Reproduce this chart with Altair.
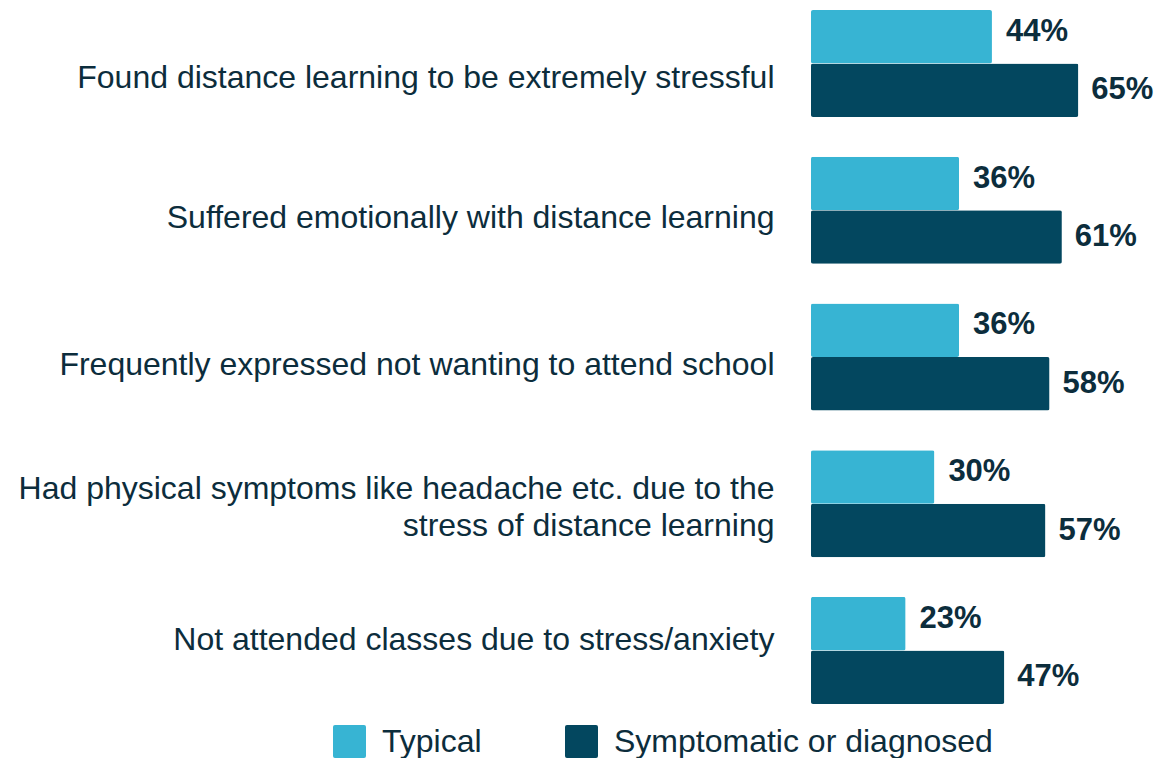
import altair as alt
import pandas as pd

categories = [
    "Found distance learning to be extremely stressful",
    "Suffered emotionally with distance learning",
    "Frequently expressed not wanting to attend school",
    "Had physical symptoms like headache etc. due to the|stress of distance learning",
    "Not attended classes due to stress/anxiety",
]
groups = ["Typical", "Symptomatic or diagnosed"]
typical = [44, 36, 36, 30, 23]
symptomatic = [65, 61, 58, 57, 47]

rows = []
for c, t, s in zip(categories, typical, symptomatic):
    rows.append({"cat": c, "group": groups[0], "value": t, "label": f"{t}%"})
    rows.append({"cat": c, "group": groups[1], "value": s, "label": f"{s}%"})
df = pd.DataFrame(rows)

LIGHT = "#37B4D3"
DARK = "#03475F"
TEXT = "#0C2D3C"
FONT = "Liberation Sans"

label_offset = {
    "condition": [
        {"test": "indexof(datum.value, 'Had') == 0", "value": -15},
        {"test": "indexof(datum.value, 'Not') == 0", "value": -10},
        {"test": "indexof(datum.value, 'Found') == 0", "value": 14},
    ],
    "value": 8,
}

y_enc = alt.Y(
    "cat:N",
    sort=categories,
    scale=alt.Scale(paddingInner=0.27, paddingOuter=0),
    axis=alt.Axis(
        title=None,
        ticks=False,
        domain=False,
        labelExpr="split(datum.label, '|')",
        labelFontSize=32,
        labelLineHeight=37,
        labelColor=TEXT,
        labelFont=FONT,
        labelPadding=37,
        labelLimit=0,
        labelAlign="right",
        labelOffset=label_offset,
    ),
)
yoff = alt.YOffset("group:N", sort=groups, scale=alt.Scale(paddingInner=0, paddingOuter=0))
x_enc = alt.X("value:Q", scale=alt.Scale(domain=[0, 80]), axis=None)

rounded = "M-0.88,-1 H0.88 Q1,-1 1,-0.88 V0.88 Q1,1 0.88,1 H-0.88 Q-1,1 -1,0.88 V-0.88 Q-1,-1 -0.88,-1 Z"

bars = alt.Chart(df).mark_bar(cornerRadius=2).encode(
    y=y_enc,
    yOffset=yoff,
    x=x_enc,
    color=alt.Color(
        "group:N",
        sort=groups,
        scale=alt.Scale(domain=groups, range=[LIGHT, DARK]),
        legend=alt.Legend(
            title=None,
            orient="none",
            legendX=-478,
            legendY=715,
            direction="horizontal",
            symbolType=rounded,
            symbolSize=1089,
            symbolStrokeWidth=0,
            symbolOpacity=1,
            labelFontSize=32,
            labelFont=FONT,
            labelColor=TEXT,
            labelOffset=16,
            columnPadding=83,
            labelLimit=0,
        ),
    ),
)

text_typ = alt.Chart(df).transform_filter(alt.datum.group == groups[0]).mark_text(
    align="left", baseline="middle", dx=14, dy=-5, fontSize=31, fontWeight="bold", font=FONT, color=TEXT
).encode(y=y_enc, yOffset=yoff, x=x_enc, text="label:N")

text_sym = alt.Chart(df).transform_filter(alt.datum.group == groups[1]).mark_text(
    align="left", baseline="middle", dx=13, dy=0, fontSize=31, fontWeight="bold", font=FONT, color=TEXT
).encode(y=y_enc, yOffset=yoff, x=x_enc, text="label:N")

chart = (
    alt.layer(bars, text_typ, text_sym)
    .properties(
        width=329,
        height=694,
        autosize=alt.AutoSizeParams(type="none"),
        padding={"left": 803, "top": 2, "right": 17, "bottom": 54},
    )
    .configure(background="white", view={"stroke": None})
)

chart.save("out.html", embed_options={"renderer": "svg", "actions": False})
